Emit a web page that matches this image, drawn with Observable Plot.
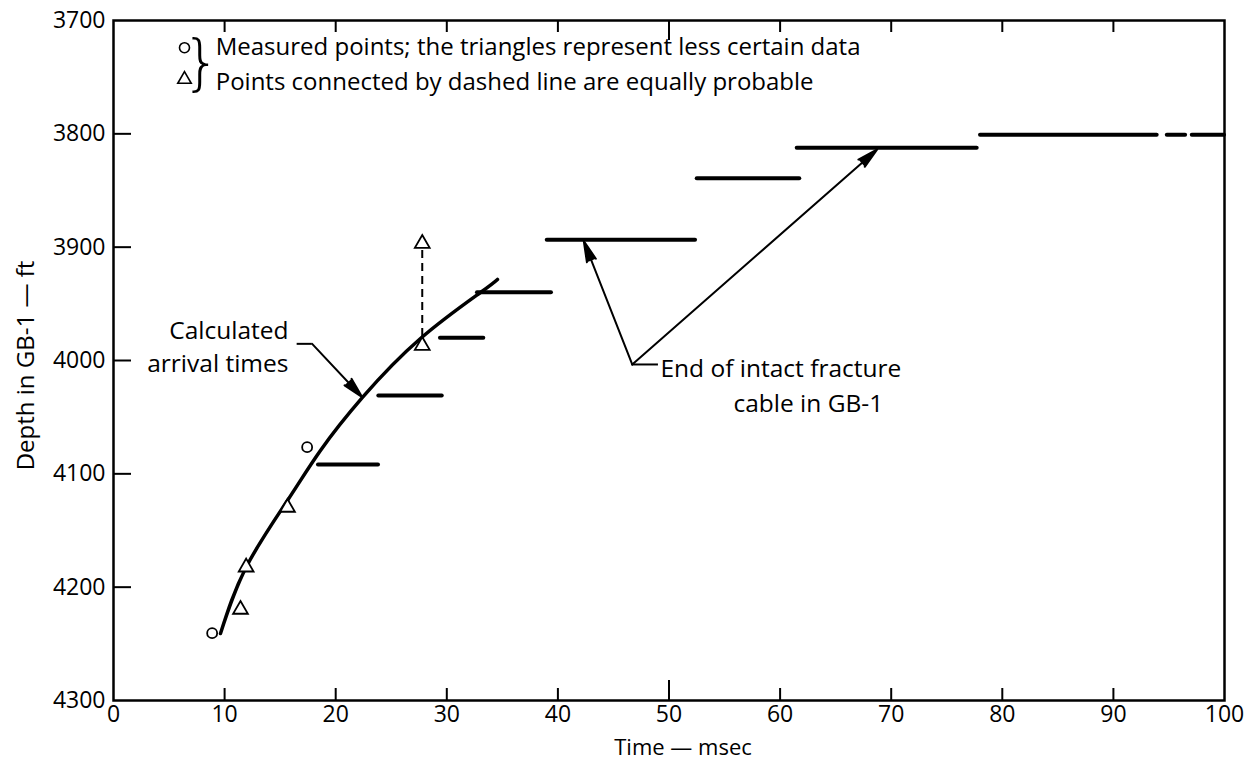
<!DOCTYPE html>
<html>
<head>
<meta charset="utf-8">
<script src="https://cdn.jsdelivr.net/npm/d3@7"></script>
<script src="https://cdn.jsdelivr.net/npm/@observablehq/plot@0.6"></script>
<style>
  html, body { margin: 0; padding: 0; background: white; }
  #chart { width: 1245px; height: 767px; }
</style>
</head>
<body>
<div id="chart"></div>
<script>
// ---- data ----
const xTicks = [0, 10, 20, 30, 40, 50, 60, 70, 80, 90, 100];
const yTicks = [3700, 3800, 3900, 4000, 4100, 4200, 4300];

// measured points (time msec, depth ft)
const circleT = [8.88, 17.43];
const circleD = [4240.6, 4076.5];
const triangleT = [11.43, 11.94, 15.66, 27.79, 27.79];
const triangleD = [4219.7, 4182.4, 4129.7, 3986.8, 3896.8];

// calculated arrival-time curve
const curveT = [9.63, 11.94, 15.66, 18.63, 22.41, 27.63, 33.03, 34.56];
const curveD = [4240.9, 4182.4, 4123.5, 4079.4, 4032.6, 3980.6, 3940.0, 3928.5];

// horizontal segments: start time, end time, depth
const segStart = [18.45, 23.88, 29.43, 32.76, 39.04, 52.54, 61.54, 78.04];
const segEnd   = [23.85, 29.59, 33.33, 39.42, 52.39, 61.77, 77.74, 93.94];
const segDepth = [4091.8, 4030.9, 3980.0, 3939.7, 3893.5, 3839.2, 3812.3, 3800.9];
// dashed continuation of the last segment
const tailStart = [94.85, 97.1];
const tailEnd = [96.5, 100];
const tailDepth = [3800.9, 3800.9];

// equally probable pair (dashed connector)
const pairT = 27.79;
const pairTop = 3903;
const pairBottom = 3979;

// annotation leaders and arrows
const leaderX1 = [16.53, 46.69];
const leaderX2 = [17.88, 49.05];
const leaderY = [3985.3, 4003.5];
const arrowX1 = [17.88, 46.69, 46.69];
const arrowY1 = [3985.3, 4003.5, 4003.5];
const arrowX2 = [22.39, 42.33, 68.74];
const arrowY2 = [4032.4, 3894.7, 3813.8];

const legendTexts = ["Measured points; the triangles represent less certain data",
                     "Points connected by dashed line are equally probable"];

// ---- build tables ----
const circles = circleT.map((t, i) => ({t, d: circleD[i]}));
const triangles = triangleT.map((t, i) => ({t, d: triangleD[i]}));
const curve = curveT.map((t, i) => ({t, d: curveD[i]}));
const segments = segStart.map((s, i) => ({s, e: segEnd[i], d: segDepth[i]}));
const tail = tailStart.map((s, i) => ({s, e: tailEnd[i], d: tailDepth[i]}));
const leaders = leaderX1.map((x1, i) => ({x1, x2: leaderX2[i], y: leaderY[i]}));
const arrows = arrowX1.map((x1, i) => ({x1, y1: arrowY1[i], x2: arrowX2[i], y2: arrowY2[i]}));

const W = 1245, H = 767;
const mL = 113, mR = 21, mT = 20, mB = 67;
const pw = W - mL - mR, ph = H - mT - mB;
const font = "'Open Sans', Lato, sans-serif";

const innerX = xTicks.filter(v => v > 0 && v < 100 && v !== 50);
const midX = [50];
const innerY = yTicks.filter(v => v > 3700 && v < 4300);

const chart = Plot.plot({
  width: W, height: H,
  marginLeft: mL, marginRight: mR, marginTop: mT, marginBottom: mB,
  x: {domain: [0, 100]},
  y: {domain: [3700, 4300], reverse: true},
  style: {fontFamily: font, fontSize: "22px", background: "white", color: "black"},
  marks: [
    // ticks (inward)
    Plot.ruleX(innerX, {x: d => d, insetTop: ph - 12, stroke: "black", strokeWidth: 2}),
    Plot.ruleX(midX, {x: d => d, insetTop: ph - 20, stroke: "black", strokeWidth: 2}),
    Plot.ruleX(innerX, {x: d => d, insetBottom: ph - 12, stroke: "black", strokeWidth: 2}),
    Plot.ruleX(midX, {x: d => d, insetBottom: ph - 20, stroke: "black", strokeWidth: 2}),
    Plot.ruleY(innerY, {y: d => d, insetRight: pw - 18, stroke: "black", strokeWidth: 2}),
    Plot.frame({stroke: "black", strokeWidth: 2.5}),
    Plot.axisX(xTicks, {tickSize: 0, tickPadding: 5, fontSize: 23, tickFormat: d => String(d), label: null}),
    Plot.axisY(yTicks, {tickSize: 0, tickPadding: 8, fontSize: 23, tickFormat: d => String(d), label: null}),
    Plot.text(["Time — msec"], {frameAnchor: "bottom", dx: 14, dy: 54, fontSize: 22}),
    Plot.text(["Depth in GB-1 — ft"], {frameAnchor: "left", textAnchor: "middle", dx: -87, dy: 5, rotate: -90, fontSize: 24}),

    // step segments
    Plot.ruleY(segments, {y: "d", x1: "s", x2: "e", stroke: "black", strokeWidth: 4, strokeLinecap: "round"}),
    Plot.ruleY(tail, {y: "d", x1: "s", x2: "e", stroke: "black", strokeWidth: 4, strokeLinecap: "round"}),

    // calculated curve
    Plot.line(curve, {x: "t", y: "d", curve: "natural", stroke: "black", strokeWidth: 3.5}),

    // dashed connector between equally probable points
    Plot.ruleX([pairT], {x: d => d, y1: pairTop, y2: pairBottom, stroke: "black", strokeWidth: 2, strokeDasharray: "8,5"}),

    // leaders and arrows
    Plot.ruleY(leaders, {y: "y", x1: "x1", x2: "x2", stroke: "black", strokeWidth: 2}),
    Plot.arrow(arrows, {x1: "x1", y1: "y1", x2: "x2", y2: "y2", stroke: "black", fill: "black", strokeWidth: 2,
                        headLength: 16, headAngle: 26}),

    // data points
    Plot.dot(circles, {x: "t", y: "d", symbol: "circle", r: 5, fill: "white", stroke: "black", strokeWidth: 1.8}),
    Plot.dot(triangles, {x: "t", y: "d", symbol: "triangle", r: 5.5, fill: "white", stroke: "black", strokeWidth: 1.8}),

    // annotations
    Plot.text(["Calculated\narrival times"], {x: 15.75, y: 3985.9, textAnchor: "end", lineAnchor: "middle",
      lineHeight: 1.35, fontSize: 24.5}),
    Plot.text(["End of intact fracture"], {x: 49.23, y: 4007.4, textAnchor: "start", fontSize: 24.5}),
    Plot.text(["cable in GB-1"], {x: 55.8, y: 4038.2, textAnchor: "start", fontSize: 24.5}),

    // legend
    Plot.dot([0], {x: 6.39, y: 3724, symbol: "circle", r: 5, fill: "white", stroke: "black", strokeWidth: 1.6}),
    Plot.dot([0], {x: 6.39, y: 3752, symbol: "triangle", r: 5, fill: "white", stroke: "black", strokeWidth: 1.6}),
    Plot.text(["}"], {x: 7.9, y: 3738.5, fontSize: 60, fontWeight: 300, fontFamily: "'DejaVu Sans', sans-serif"}),
    Plot.text([legendTexts[0]], {x: 9.2, y: 3723.8, textAnchor: "start", fontSize: 24}),
    Plot.text([legendTexts[1]], {x: 9.2, y: 3754.5, textAnchor: "start", fontSize: 24})
  ]
});
document.getElementById("chart").appendChild(chart);
</script>
</body>
</html>
